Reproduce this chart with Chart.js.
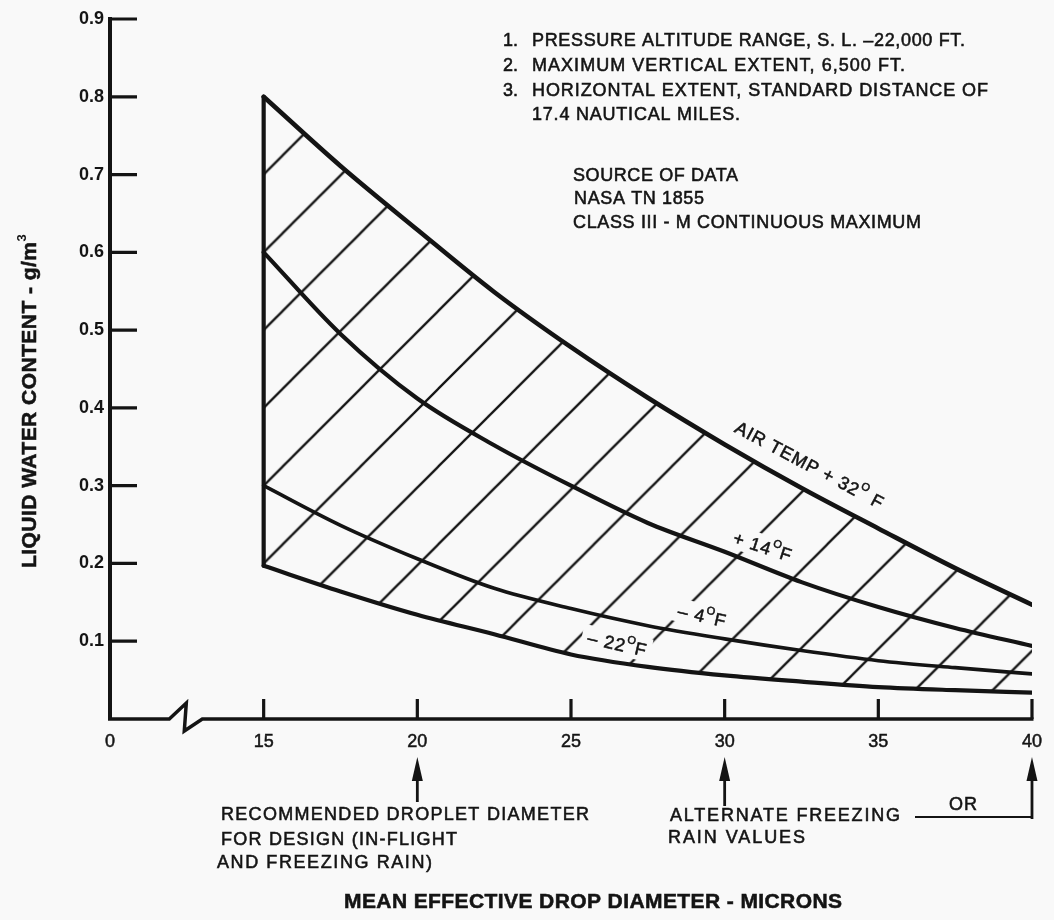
<!DOCTYPE html>
<html>
<head>
<meta charset="utf-8">
<title>Liquid water content vs. mean effective drop diameter</title>
<script src="https://cdn.jsdelivr.net/npm/chart.js@4.4.1/dist/chart.umd.min.js"></script>
<style>
  html, body { margin: 0; padding: 0; background: #f9f9f9; }
  canvas { display: block; }
</style>
</head>
<body>
<canvas id="chart" width="1054" height="920"></canvas>
<script>
// Mean effective drop diameter (microns) at which each curve is sampled
const diameters = [15, 17.5, 20, 22.5, 25, 27.5, 30, 32.5, 35, 37.5, 40];

// Liquid water content (g/m^3) for each air temperature
const lwcPlus32F  = [0.800, 0.711, 0.629, 0.549, 0.478, 0.413, 0.353, 0.297, 0.245, 0.194, 0.147];
const lwcPlus14F  = [0.600, 0.495, 0.412, 0.352, 0.300, 0.252, 0.215, 0.176, 0.144, 0.117, 0.094];
const lwcMinus4F  = [0.300, 0.249, 0.206, 0.168, 0.142, 0.120, 0.103, 0.088, 0.075, 0.066, 0.058];
const lwcMinus22F = [0.197, 0.164, 0.134, 0.109, 0.083, 0.067, 0.056, 0.048, 0.041, 0.037, 0.034];

// Axis ticks. The x axis is broken between 0 and 15: the origin is drawn at
// axis position 10 so the gap 0..15 takes the room of one 5-micron step.
const xTickValues = [10, 15, 20, 25, 30, 35, 40];
const xTickLabels = ['0', '15', '20', '25', '30', '35', '40'];
const yTickValues = [0.1, 0.2, 0.3, 0.4, 0.5, 0.6, 0.7, 0.8, 0.9];
const yTickLabels = ['0.1', '0.2', '0.3', '0.4', '0.5', '0.6', '0.7', '0.8', '0.9'];

// Diameters picked out by arrows below the axis
const designDiameter = 20;
const alternateDiameters = [30, 40];

const INK = '#141414';
const PAPER = '#f9f9f9';
const FONT = '"Liberation Sans", Arial, sans-serif';
const TEXT_STROKE = 0.55;

const toPoints = (ys) => diameters.map((d, i) => ({ x: d, y: ys[i] }));

// Diagonal hatching for the envelope between the +32 F and -22 F curves
function makeHatch(ctx) {
  const s = 78;
  const tile = document.createElement('canvas');
  tile.width = s; tile.height = s;
  const g = tile.getContext('2d');
  g.strokeStyle = INK;
  g.lineWidth = 2.3;
  g.beginPath();
  g.moveTo(-6, s + 6); g.lineTo(s + 6, -6);
  g.moveTo(-6, 6); g.lineTo(6, -6);
  g.moveTo(s - 6, s + 6); g.lineTo(s + 6, s - 6);
  g.stroke();
  const p = ctx.createPattern(tile, 'repeat');
  const k = 77.8 / s;
  p.setTransform(new DOMMatrix([k, 0, 0, k, 49, 0]));
  return p;
}

// Fill text, thickened slightly with a thin outline of the same ink
function inkText(ctx, text, x, y) {
  ctx.fillText(text, x, y);
  ctx.lineWidth = TEXT_STROKE;
  ctx.strokeText(text, x, y);
}

// Draw text stretched by letter spacing so that it spans the given width
function spacedText(ctx, text, x, y, width) {
  ctx.letterSpacing = '0px';
  const w = ctx.measureText(text).width;
  const n = [...text].length;
  const ls = n > 1 ? (width - w) / (n - 1) : 0;
  ctx.letterSpacing = ls + 'px';
  ctx.textAlign = 'left';
  inkText(ctx, text, x, y);
  ctx.letterSpacing = '0px';
  return ls;
}

// Text made of runs; runs with sup:true are small and raised (degree marks, powers)
function richWidth(ctx, parts, size, spacing) {
  let w = 0;
  for (const p of parts) {
    ctx.font = (p.sup ? Math.round(size * 0.62) : size) + 'px ' + FONT;
    ctx.letterSpacing = spacing + 'px';
    w += ctx.measureText(p.t).width;
  }
  ctx.letterSpacing = '0px';
  return w;
}
function drawRich(ctx, parts, size, spacing) {
  let x = 0;
  for (const p of parts) {
    const s = p.sup ? Math.round(size * 0.62) : size;
    ctx.font = s + 'px ' + FONT;
    ctx.letterSpacing = spacing + 'px';
    inkText(ctx, p.t, x, p.sup ? -size * 0.42 : 0);
    x += ctx.measureText(p.t).width;
  }
  ctx.letterSpacing = '0px';
}

// Curve labels, placed in data units along each curve
const curveLabels = [
  { parts: [{ t: 'AIR TEMP + 32' }, { t: 'O', sup: true }, { t: ' F' }], x: 32.75, y: 0.325, angle: 28, box: false },
  { parts: [{ t: '+ 14' }, { t: 'O', sup: true }, { t: 'F' }], x: 31.23, y: 0.220, angle: 18, box: true },
  { parts: [{ t: '\u2013 4' }, { t: 'O', sup: true }, { t: 'F' }], x: 29.26, y: 0.131, angle: 13, box: true },
  { parts: [{ t: '\u2013 22' }, { t: 'O', sup: true }, { t: 'F' }], x: 26.5, y: 0.095, angle: 13, box: true }
];
const LABEL_SIZE = 18;

const chartDecor = {
  id: 'chartDecor',
  // clear the hatching under the temperature labels before the curves go on top
  beforeDatasetsDraw(chart) {
    const { ctx, scales: { x, y } } = chart;
    ctx.save();
    ctx.fillStyle = PAPER;
    for (const L of curveLabels) {
      if (!L.box) continue;
      const w = richWidth(ctx, L.parts, LABEL_SIZE, 1);
      ctx.save();
      ctx.translate(x.getPixelForValue(L.x), y.getPixelForValue(L.y));
      ctx.rotate(L.angle * Math.PI / 180);
      ctx.fillRect(-w / 2 - 6, -LABEL_SIZE * 0.75, w + 10, LABEL_SIZE * 1.3);
      ctx.restore();
    }
    ctx.restore();
  },
  afterDatasetsDraw(chart) {
    const { ctx, chartArea: a, scales: { x, y } } = chart;
    ctx.save();
    ctx.strokeStyle = INK;
    ctx.fillStyle = INK;
    ctx.lineCap = 'butt';

    // x axis line with the break symbol
    const y0 = y.getPixelForValue(0);
    const bx = x.getPixelForValue(12.45);
    ctx.lineWidth = 3.5;
    ctx.beginPath();
    ctx.moveTo(a.left - 2, y0);
    ctx.lineTo(bx - 16, y0);
    ctx.lineTo(bx + 1, y0 - 16);
    ctx.lineTo(bx - 1, y0 + 12);
    ctx.lineTo(bx + 17, y0);
    ctx.lineTo(a.right + 1.5, y0);
    ctx.stroke();

    // inward tick marks
    ctx.lineWidth = 3.2;
    ctx.beginPath();
    for (const v of xTickValues.slice(1)) {
      const px = x.getPixelForValue(v);
      ctx.moveTo(px, y0);
      ctx.lineTo(px, y0 - 20);
    }
    for (const v of yTickValues) {
      const py = y.getPixelForValue(v);
      ctx.moveTo(a.left, py);
      ctx.lineTo(a.left + 27, py);
    }
    ctx.stroke();

    // curve labels
    ctx.textBaseline = 'middle';
    ctx.textAlign = 'left';
    for (const L of curveLabels) {
      const w = richWidth(ctx, L.parts, LABEL_SIZE, 1);
      ctx.save();
      ctx.translate(x.getPixelForValue(L.x), y.getPixelForValue(L.y));
      ctx.rotate(L.angle * Math.PI / 180);
      ctx.translate(-w / 2, 0);
      drawRich(ctx, L.parts, LABEL_SIZE, 1);
      ctx.restore();
    }

    // notes
    ctx.font = '18px ' + FONT;
    ctx.textBaseline = 'middle';
    inkText(ctx, '1.', 503, 41);
    inkText(ctx, '2.', 503, 66);
    inkText(ctx, '3.', 503, 91);
    spacedText(ctx, 'PRESSURE ALTITUDE RANGE, S. L. \u201322,000 FT.', 532, 41, 433);
    spacedText(ctx, 'MAXIMUM VERTICAL EXTENT, 6,500 FT.', 532, 66, 373);
    spacedText(ctx, 'HORIZONTAL EXTENT, STANDARD DISTANCE OF', 532, 91, 456);
    spacedText(ctx, '17.4 NAUTICAL MILES.', 532, 115, 208);
    ctx.font = '18px ' + FONT;
    spacedText(ctx, 'SOURCE OF DATA', 573, 176, 165);
    spacedText(ctx, 'NASA TN 1855', 574, 199, 130);
    spacedText(ctx, 'CLASS III - M CONTINUOUS MAXIMUM', 573, 223, 348);

    // arrows below the axis
    const arrow = (px, tipY, tailY) => {
      ctx.lineWidth = 2.8;
      ctx.beginPath();
      ctx.moveTo(px, tipY + 14);
      ctx.lineTo(px, tailY);
      ctx.stroke();
      ctx.beginPath();
      ctx.moveTo(px, tipY);
      ctx.lineTo(px - 5.5, tipY + 24);
      ctx.lineTo(px + 5.5, tipY + 24);
      ctx.closePath();
      ctx.fill();
    };
    arrow(x.getPixelForValue(designDiameter), 757, 802);
    arrow(x.getPixelForValue(alternateDiameters[0]), 757, 806);
    const x40 = x.getPixelForValue(alternateDiameters[1]);
    arrow(x40, 757, 819);
    ctx.lineWidth = 2.2;
    ctx.beginPath();
    ctx.moveTo(915, 817);
    ctx.lineTo(x40 + 1, 817);
    ctx.stroke();

    ctx.font = '18px ' + FONT;
    ctx.textBaseline = 'middle';
    spacedText(ctx, 'RECOMMENDED DROPLET DIAMETER', 221, 815, 368);
    spacedText(ctx, 'FOR DESIGN (IN-FLIGHT', 221, 840, 236);
    spacedText(ctx, 'AND FREEZING RAIN)', 217, 863, 215);
    spacedText(ctx, 'ALTERNATE FREEZING', 670, 816, 230);
    spacedText(ctx, 'RAIN VALUES', 668, 838, 137);
    spacedText(ctx, 'OR', 949, 805, 28);

    // axis titles
    ctx.font = 'bold 21px ' + FONT;
    spacedText(ctx, 'MEAN EFFECTIVE DROP DIAMETER - MICRONS', 344, 902, 498);

    ctx.save();
    ctx.translate(30, 568);
    ctx.rotate(-Math.PI / 2);
    ctx.font = 'bold 21px ' + FONT;
    const ls = spacedText(ctx, 'LIQUID WATER CONTENT - g/m', 0, 0, 326);
    ctx.letterSpacing = ls + 'px';
    const w = ctx.measureText('LIQUID WATER CONTENT - g/m').width;
    ctx.letterSpacing = '0px';
    ctx.font = 'bold 13px ' + FONT;
    ctx.fillText('3', w, -8);
    ctx.restore();

    ctx.restore();
  }
};

const ctx = document.getElementById('chart').getContext('2d');
const hatch = makeHatch(ctx);

const curveStyle = (w) => ({
  borderColor: INK,
  borderWidth: w,
  pointRadius: 0,
  cubicInterpolationMode: 'monotone',
  borderCapStyle: 'round',
  borderJoinStyle: 'round'
});

new Chart(ctx, {
  type: 'line',
  data: {
    datasets: [
      { label: 'AIR TEMP +32\u00b0F', data: toPoints(lwcPlus32F), ...curveStyle(4.6), fill: 3, backgroundColor: hatch },
      { label: '+14\u00b0F', data: toPoints(lwcPlus14F), ...curveStyle(4.2), fill: false },
      { label: '\u20134\u00b0F', data: toPoints(lwcMinus4F), ...curveStyle(3.6), fill: false },
      { label: '\u201322\u00b0F', data: toPoints(lwcMinus22F), ...curveStyle(4.2), fill: false },
      {
        label: 'smallest diameter',
        data: [{ x: diameters[0], y: lwcMinus22F[0] }, { x: diameters[0], y: lwcPlus32F[0] }],
        ...curveStyle(4.2), fill: false
      }
    ]
  },
  options: {
    responsive: false,
    animation: false,
    events: [],
    layout: { padding: { top: 19, right: 17, bottom: 0, left: 0 } },
    plugins: {
      legend: { display: false },
      tooltip: { enabled: false },
      filler: { drawTime: 'beforeDatasetsDraw' }
    },
    scales: {
      x: {
        type: 'linear',
        min: 10,
        max: 40,
        afterBuildTicks: (s) => { s.ticks = xTickValues.map((v) => ({ value: v })); },
        afterFit: (s) => { s.height = 201; },
        grid: { display: false, drawTicks: false },
        border: { display: false },
        ticks: {
          autoSkip: false,
          maxRotation: 0,
          padding: 12,
          color: INK,
          textStrokeColor: INK,
          textStrokeWidth: 0.5,
          font: { family: FONT, size: 18 },
          callback: (v, i) => xTickLabels[i]
        }
      },
      y: {
        type: 'linear',
        min: 0,
        max: 0.9,
        afterBuildTicks: (s) => { s.ticks = yTickValues.map((v) => ({ value: v })); },
        afterFit: (s) => { s.width = 110; },
        grid: { display: false, drawTicks: false },
        border: { display: true, color: INK, width: 4 },
        ticks: {
          padding: 6,
          color: INK,
          font: { family: FONT, size: 18, weight: 'bold' },
          callback: (v, i) => yTickLabels[i]
        }
      }
    }
  },
  plugins: [chartDecor]
});
</script>
</body>
</html>
